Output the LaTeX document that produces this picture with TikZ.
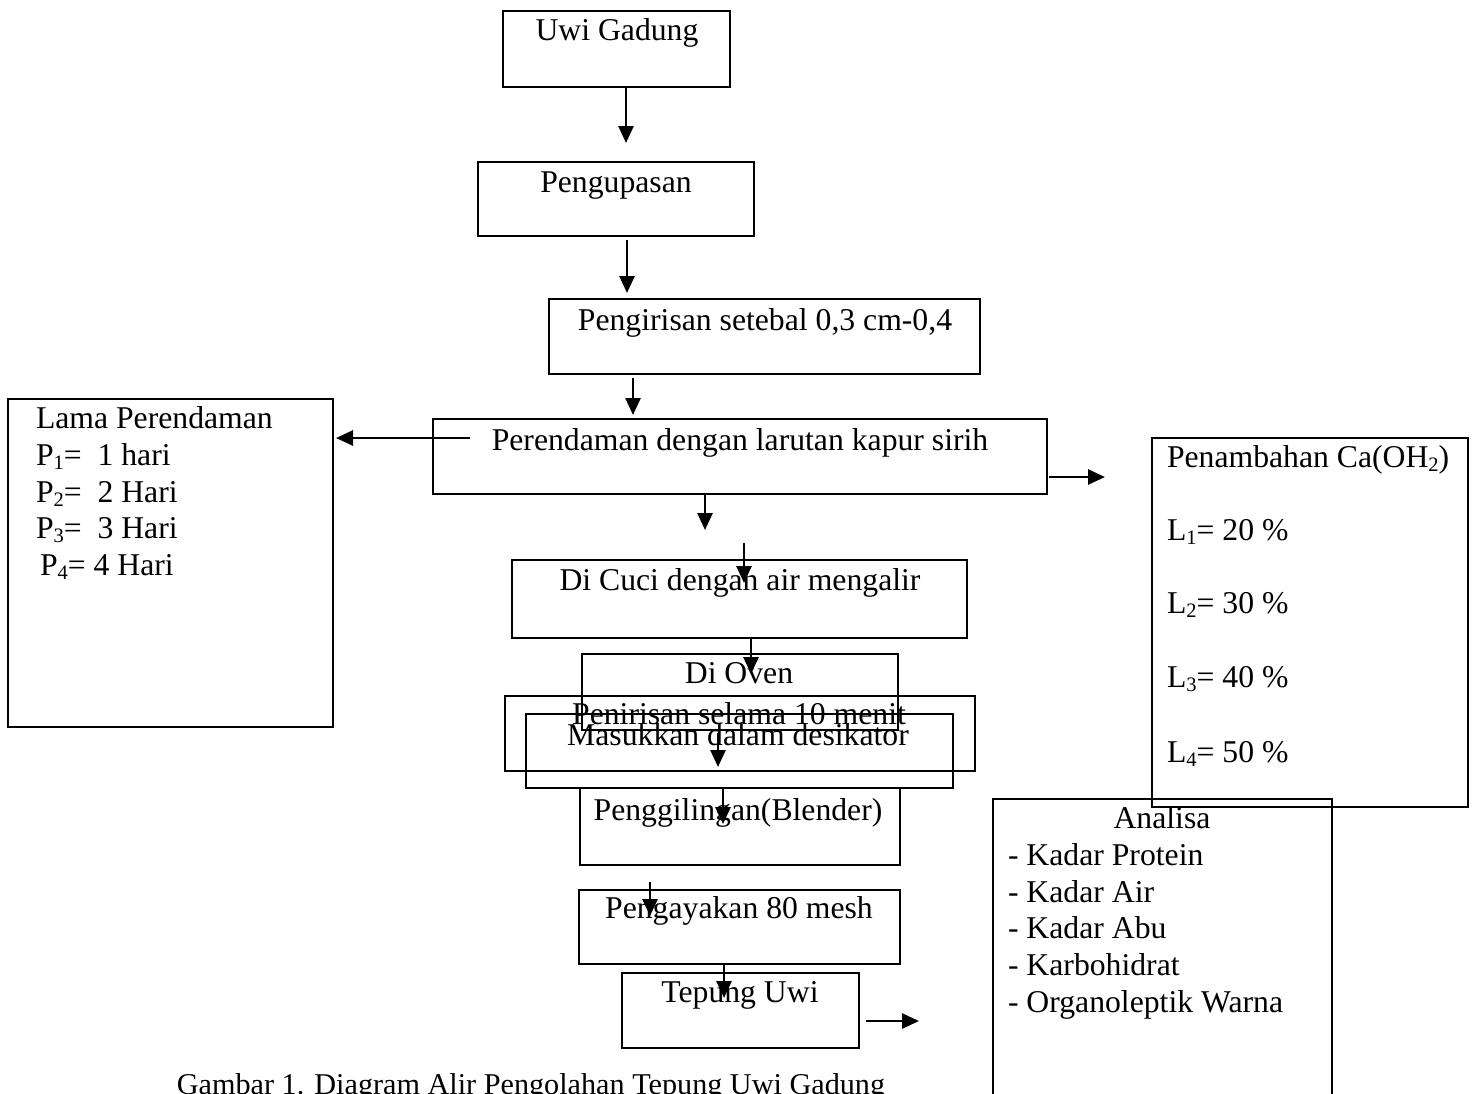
\documentclass[tikz,border=0pt]{standalone}
\usepackage{fontspec}
\setmainfont{Liberation Serif}
\usetikzlibrary{arrows.meta}
\newcommand\sbx[1]{\raisebox{-4.5pt}{\fontsize{20.5}{20.5}\selectfont #1}}
\begin{document}
\begin{tikzpicture}[x=1pt,y=-1pt,
  box/.style={draw, line width=2.7pt, inner sep=0pt, outer sep=0pt, anchor=north west},
  txt/.style={font=\fontsize{31.7}{36}\selectfont, inner sep=0pt, outer sep=0pt},
  arr/.style={line width=2.7pt, -{Triangle[length=17pt,width=15pt]}}]
\useasboundingbox (0,0) rectangle (1474,1093);
% boxes
\node[box, minimum width=227pt, minimum height=76pt] (uwi) at (503,11) {};
\node[box, minimum width=276pt, minimum height=74pt] (kupas) at (478,162) {};
\node[box, minimum width=431pt, minimum height=75pt] (iris) at (549,299) {};
\node[box, minimum width=614pt, minimum height=75pt] (rendam) at (433,419) {};
\node[box, minimum width=325pt, minimum height=328pt] (lama) at (8,399) {};
\node[box, minimum width=316pt, minimum height=369pt] (tambah) at (1152,438) {};
\node[box, minimum width=455pt, minimum height=78pt] (cuci) at (512,560) {};
\node[box, minimum width=316pt, minimum height=76pt] (oven) at (582,654) {};
\node[box, minimum width=470pt, minimum height=75pt] (tiris) at (505,696) {};
\node[box, minimum width=427pt, minimum height=74pt] (desik) at (526,714) {};
\node[box, minimum width=320pt, minimum height=77pt] (giling) at (580,788) {};
\node[box, minimum width=321pt, minimum height=74pt] (ayak) at (579,890) {};
\node[box, minimum width=237pt, minimum height=75pt] (tepung) at (622,973) {};
\node[box, minimum width=339pt, minimum height=311pt] (analisa) at (993,799) {};
% texts
\node[txt, anchor=base] (t-uwi) at (617,40) {Uwi Gadung};
\node[txt, anchor=base] (t-kupas) at (616,192) {Pengupasan};
\node[txt, anchor=base] (t-iris) at (765,330) {Pengirisan setebal 0,3 cm-0,4};
\node[txt, anchor=base] (t-rendam) at (740,450) {Perendaman dengan larutan kapur sirih};
\node[txt, anchor=base] (t-cuci) at (740,590) {Di Cuci dengan air mengalir};
\node[txt, anchor=base] (t-oven) at (739,683) {Di Oven};
\node[txt, anchor=base] (t-tiris) at (739,724) {Penirisan selama 10 menit};
\node[txt, anchor=base] (t-desik) at (738,745) {Masukkan dalam desikator};
\node[txt, anchor=base] (t-giling) at (738,820) {Penggilingan(Blender)};
\node[txt, anchor=base] (t-ayak) at (739,918) {Pengayakan 80 mesh};
\node[txt, anchor=base] (t-tepung) at (740,1002) {Tepung Uwi};
% Lama Perendaman
\node[txt, anchor=base west] (l0) at (36,428) {Lama Perendaman};
\node[txt, anchor=base west] (l1) at (36,465) {P\sbx{1}=\ \ 1 hari};
\node[txt, anchor=base west] (l2) at (36,502) {P\sbx{2}=\ \ 2 Hari};
\node[txt, anchor=base west] (l3) at (36,538) {P\sbx{3}=\ \ 3 Hari};
\node[txt, anchor=base west] (l4) at (40,575) {P\sbx{4}= 4 Hari};
% Penambahan
\node[txt, anchor=base west] (c0) at (1167,467) {Penambahan Ca(OH\sbx{2})};
\node[txt, anchor=base west] (c1) at (1167,540) {L\sbx{1}= 20 \%};
\node[txt, anchor=base west] (c2) at (1167,613) {L\sbx{2}= 30 \%};
\node[txt, anchor=base west] (c3) at (1167,687) {L\sbx{3}= 40 \%};
\node[txt, anchor=base west] (c4) at (1167,762) {L\sbx{4}= 50 \%};
% Analisa
\node[txt, anchor=base] (a0) at (1162,828) {Analisa};
\node[txt, anchor=base west] (a1) at (1008,865) {- Kadar Protein};
\node[txt, anchor=base west] (a2) at (1008,902) {- Kadar Air};
\node[txt, anchor=base west] (a3) at (1008,938) {- Kadar Abu};
\node[txt, anchor=base west] (a4) at (1008,975) {- Karbohidrat};
\node[txt, anchor=base west] (a5) at (1008,1012) {- Organoleptik Warna};
% caption
\node[txt, font=\fontsize{30.2}{34}\selectfont, anchor=base] (cap) at (531,1094) {Gambar 1. Diagram Alir Pengolahan Tepung Uwi Gadung};
% arrow coordinates
\coordinate (p1s) at (626,88);   \coordinate (p1e) at (626,143);
\coordinate (p2s) at (627,240);  \coordinate (p2e) at (627,293);
\coordinate (p3s) at (633,378);  \coordinate (p3e) at (633,415);
\coordinate (p4s) at (470,438);  \coordinate (p4e) at (336,438);
\coordinate (p5s) at (1049,477); \coordinate (p5e) at (1105,477);
\coordinate (p6s) at (705,494);  \coordinate (p6e) at (705,530);
\coordinate (p7s) at (744,543);  \coordinate (p7e) at (744,583);
\coordinate (p8s) at (751,638);  \coordinate (p8e) at (751,674);
\coordinate (p9s) at (718,733);  \coordinate (p9e) at (718,767);
\coordinate (p10s) at (723,787); \coordinate (p10e) at (723,824);
\coordinate (p11s) at (650,882); \coordinate (p11e) at (650,916);
\coordinate (p12s) at (724,965); \coordinate (p12e) at (724,998);
\coordinate (p13s) at (866,1021); \coordinate (p13e) at (919,1021);
\foreach \i in {1,...,13} {\draw[arr] (p\i s) -- (p\i e);}
\end{tikzpicture}
\end{document}
